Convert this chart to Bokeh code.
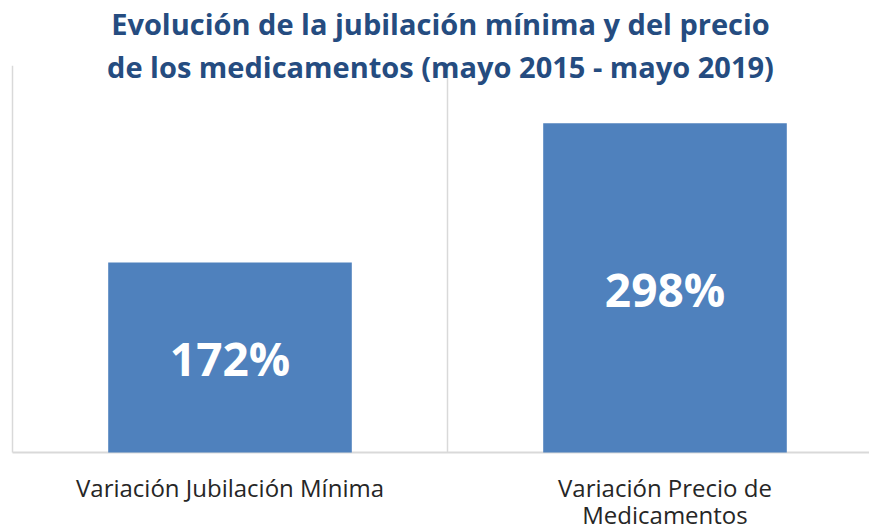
from bokeh.plotting import figure
from bokeh.models import Range1d, ColumnDataSource, Label
from bokeh.core.properties import value
from bokeh.embed import file_html
from bokeh.resources import INLINE

categories = ["Variación Jubilación Mínima", "Variación Precio de\nMedicamentos"]
values = [172, 298]
value_labels = ["172%", "298%"]
title_lines = ["Evolución de la jubilación mínima y del precio",
               "de los medicamentos (mayo 2015 - mayo 2019)"]
axis_max = 350

FONT = "Open Sans"
BAR = "#4F81BD"
TITLE_C = "#254C80"
GRID_C = "#D9D9D9"

n = len(categories)
positions = [i + 0.5 for i in range(n)]
PX_X = 435.0   # pixels per category
PX_Y = 1.105   # pixels per unit

p = figure(width=869, height=530, output_backend="svg", toolbar_location=None,
           x_range=Range1d(-12 / PX_X, 857 / PX_X),
           y_range=Range1d(-78 / PX_Y, 452 / PX_Y),
           min_border_left=0, min_border_right=0, min_border_top=0, min_border_bottom=0)
p.outline_line_color = None
p.axis.visible = False
p.grid.visible = False
p.background_fill_color = "white"
p.border_fill_color = "white"

# category separators and axis line
p.segment(x0=list(range(n)), y0=[0] * n, x1=list(range(n)), y1=[axis_max] * n,
          line_color=GRID_C, line_width=1.5)
p.segment(x0=[0], y0=[0], x1=[p.x_range.end], y1=[0], line_color=GRID_C, line_width=2)

src = ColumnDataSource(dict(x=positions, top=values, mid=[v / 2 for v in values],
                            lab=value_labels, cat=categories, zero=[0] * n))
p.vbar(x="x", top="top", width=0.56, source=src, fill_color=BAR, line_color=None)
p.text(x="x", y="mid", text="lab", source=src, text_color="white",
       text_font=value(FONT), text_font_style="bold", text_font_size="46px",
       text_align="center", text_baseline="middle", y_offset=1)

p.text(x="x", y="zero", text="cat", source=src, text_color="#262626",
       text_font=value(FONT), text_font_size="24px", text_align="center",
       text_baseline="top", text_line_height=0.82, y_offset=18)

xc = (440 - 12) / PX_X
for i, t in enumerate(title_lines):
    p.add_layout(Label(x=xc, y=axis_max + (42 - 43 * i) / PX_Y, text=t,
                       text_align="center", text_baseline="middle", text_font=FONT,
                       text_font_style="bold", text_font_size="29px", text_color=TITLE_C))

open("out.html", "w").write(file_html(p, INLINE))
